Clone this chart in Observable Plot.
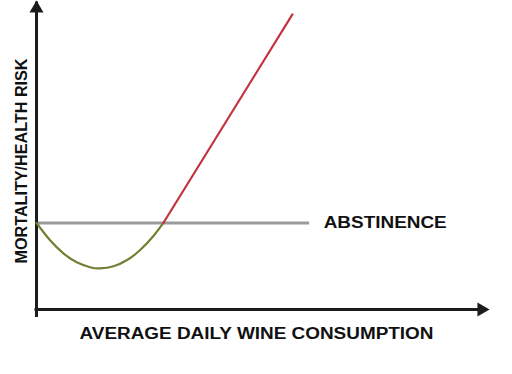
<!DOCTYPE html>
<html>
<head>
<meta charset="utf-8">
<script src="https://cdn.jsdelivr.net/npm/d3@7"></script>
<script src="https://cdn.jsdelivr.net/npm/@observablehq/plot@0.6"></script>
<style>
  html, body { margin: 0; padding: 0; background: #fff; }
</style>
</head>
<body>
<div id="chart"></div>
<script>
// Chart values (abstract units: dose 0–100, risk 0–100)
const benefitDose = [0, 3, 6, 9, 12, 14, 17, 20, 23, 26, 28];
const benefitRisk = [28, 22.4, 18.1, 15.2, 13.6, 13.3, 14.0, 16.0, 19.4, 24.1, 28];
const harmDose = [28, 56.5];
const harmRisk = [28, 95.5];
const abstinenceRisk = 28;
const abstinenceDose = [0, 60.3];
const labelDose = 63.4;
const xTitle = "AVERAGE DAILY WINE CONSUMPTION";
const yTitle = "MORTALITY/HEALTH RISK";
const abstinenceLabel = "ABSTINENCE";
const xDomain = [0, 100];
const yDomain = [0, 100];

const benefit = benefitDose.map((d, i) => ({dose: d, risk: benefitRisk[i]}));
const harm = harmDose.map((d, i) => ({dose: d, risk: harmRisk[i]}));

const textColor = "#111";
const font = "Liberation Sans, Arial, sans-serif";

const chart = Plot.plot({
  width: 512,
  height: 374,
  marginLeft: 36,
  marginRight: 23,
  marginTop: 0,
  marginBottom: 65,
  x: {domain: xDomain, axis: null},
  y: {domain: yDomain, axis: null},
  style: {fontFamily: font, background: "#fff"},
  marks: [
    // abstinence reference line
    Plot.ruleY([abstinenceRisk], {x1: abstinenceDose[0], x2: abstinenceDose[1], stroke: "#9b9b9b", strokeWidth: 3}),
    // axes
    Plot.ruleX([xDomain[0]], {y1: yDomain[0], y2: yDomain[1], stroke: "#1c1c1c", strokeWidth: 3, insetTop: 8, insetBottom: -1.5}),
    Plot.ruleY([yDomain[0]], {x1: xDomain[0], x2: xDomain[1], stroke: "#1c1c1c", strokeWidth: 3, insetRight: 8, insetLeft: -1.5}),
    Plot.dot([{x: xDomain[0], y: yDomain[1]}], {x: "x", y: "y", symbol: "triangle", r: 5.2, fill: "#1c1c1c", stroke: null, dy: 8}),
    Plot.dot([{x: xDomain[1], y: yDomain[0]}], {x: "x", y: "y", symbol: "triangle", r: 5.2, fill: "#1c1c1c", stroke: null, dx: -8, rotate: 90}),
    // J-curve
    Plot.line(benefit, {x: "dose", y: "risk", curve: "natural", stroke: "#737f33", strokeWidth: 2.2}),
    Plot.line(harm, {x: "dose", y: "risk", stroke: "#c43241", strokeWidth: 2.2}),
    // labels
    Plot.text([abstinenceLabel], {x: labelDose, y: abstinenceRisk, text: d => d, textAnchor: "start", lineAnchor: "middle", fontWeight: "bold", fontSize: 16, fill: textColor}),
    Plot.text([xTitle], {frameAnchor: "bottom", text: d => d, dy: 24, dx: -6.5, textAnchor: "middle", lineAnchor: "middle", fontWeight: "bold", fontSize: 16, fill: textColor}),
    Plot.text([yTitle], {frameAnchor: "left", text: d => d, rotate: -90, dx: -15, dy: 6, textAnchor: "middle", lineAnchor: "middle", fontWeight: "bold", fontSize: 16.5, fill: textColor})
  ]
});

// stretch titles to the reference widths
const lengths = {[xTitle]: 354, [yTitle]: 205, [abstinenceLabel]: 123};
d3.select(chart).selectAll("text").each(function() {
  const t = this.textContent;
  if (lengths[t]) {
    this.setAttribute("textLength", lengths[t]);
    this.setAttribute("lengthAdjust", "spacingAndGlyphs");
  }
});

document.getElementById("chart").appendChild(chart);
</script>
</body>
</html>
